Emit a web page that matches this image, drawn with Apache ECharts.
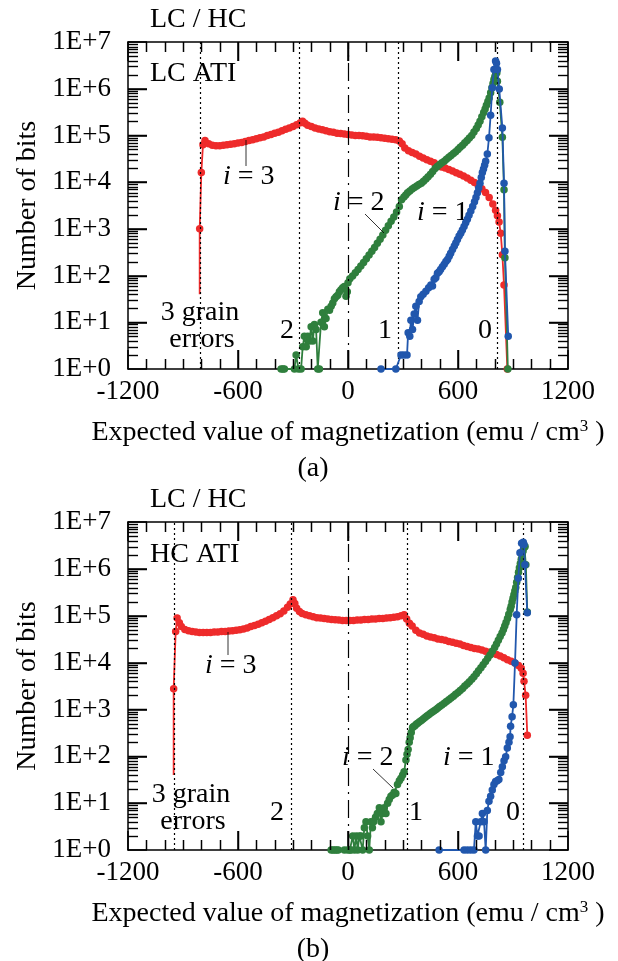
<!DOCTYPE html>
<html><head><meta charset="utf-8">
<script src="https://cdn.jsdelivr.net/npm/echarts@6/dist/echarts.min.js"></script>
<style>html,body{margin:0;padding:0;background:#fff}#c{width:618px;height:961px}</style>
</head><body><div id="c"></div>
<script>
// ---- DATA: [expected magnetization (emu/cm3), number of bits] ----
const redA = [[-809,40],[-809,1000],[-800,16000],[-791,63000],[-780,78000],[-760,66000],[-740,62000],[-720,60000],[-700,60000],[-680,62000],[-660,63000],[-640,65000],[-620,66000],[-600,69000],[-580,71000],[-560,74000],[-540,78000],[-520,81000],[-500,85000],[-480,89000],[-460,93000],[-440,100000],[-420,105000],[-400,112000],[-380,117000],[-360,126000],[-340,135000],[-320,145000],[-300,155000],[-280,170000],[-260,186000],[-248,200000],[-235,182000],[-220,166000],[-200,155000],[-180,145000],[-160,138000],[-140,132000],[-120,126000],[-100,120000],[-80,117000],[-60,112000],[-40,110000],[-20,107000],[0,105000],[20,102000],[40,100000],[60,100000],[80,98000],[100,96000],[120,93000],[140,93000],[160,91000],[180,89000],[200,87000],[220,85000],[240,83000],[260,81000],[280,76000],[295,66000],[310,54000],[330,47000],[350,43000],[370,40000],[390,36000],[410,33000],[430,30000],[450,28000],[470,26000],[490,23000],[510,21000],[530,20000],[550,18600],[570,17400],[590,15800],[610,14800],[630,13500],[650,12300],[670,11000],[690,9800],[710,8500],[730,7200],[750,6000],[770,4700],[790,3400],[805,2500],[815,1900],[824,1400],[833,810],[842,280],[851,63],[869,1]];
const greenA = [[-365,1],[-355,1],[-347,1],[-292,1],[-283,2],[-270,1],[-256,1],[-247,3],[-238,5],[-228,3],[-219,5],[-210,4],[-201,8],[-192,4],[-183,9],[-174,7],[-165,1],[-156,1],[-147,10],[-138,16],[-129,8],[-120,12],[-110,19],[-101,18],[-92,22],[-83,26],[-74,32],[-65,35],[-56,38],[-47,45],[-38,50],[-29,55],[-20,58],[-11,36],[-4,45],[0,70],[10,85],[25,98],[40,115],[55,135],[70,160],[85,190],[100,230],[115,275],[130,330],[145,400],[160,490],[175,600],[190,740],[205,930],[220,1170],[235,1450],[250,1800],[265,2300],[280,3000],[292,4200],[305,4800],[315,5300],[325,5900],[337,6500],[350,7100],[362,7700],[375,8300],[387,8900],[400,9500],[412,10500],[425,11700],[437,13100],[450,14800],[462,17000],[475,19500],[487,21500],[500,24000],[512,26000],[525,28000],[537,31000],[550,34000],[562,37000],[575,41000],[587,45000],[600,50000],[612,56000],[625,62000],[637,70000],[650,78000],[662,88000],[675,100000],[687,118000],[700,141000],[710,168000],[720,200000],[730,250000],[740,310000],[748,370000],[755,440000],[763,530000],[770,630000],[778,820000],[785,1050000],[791,1300000],[796,1580000],[801,1800000],[805,2000000],[812,2190000],[815,1450000],[828,510000],[842,91000],[851,6900],[856,240],[872,1]];
const blueA = [[180,1],[261,1],[289,2],[305,2],[322,2],[328,6],[337,5],[343,11],[352,7],[361,15],[370,22],[379,11],[388,28],[397,35],[410,40],[425,46],[440,55],[452,63],[461,60],[470,83],[479,90],[488,112],[497,120],[505,135],[515,155],[525,174],[534,200],[543,220],[552,260],[560,300],[570,360],[580,430],[588,500],[597,590],[606,700],[615,810],[624,950],[633,1120],[642,1350],[651,1600],[660,1950],[670,2400],[680,3000],[690,3800],[698,4700],[706,5900],[713,7500],[720,9500],[727,12500],[733,16000],[739,19000],[745,23000],[751,28000],[760,40000],[769,89000],[778,270000],[787,1050000],[796,2570000],[805,3900000],[810,3500000],[815,2570000],[825,980000],[842,145000],[851,9500],[856,330],[874,5]];
const redB = [[-951,40],[-951,2750],[-940,46000],[-932,89000],[-920,71000],[-909,59000],[-890,51000],[-870,48000],[-850,46000],[-830,45000],[-810,44000],[-790,44000],[-770,44000],[-750,44000],[-730,45000],[-710,45000],[-690,46000],[-670,46000],[-650,47000],[-630,48000],[-610,49000],[-590,50000],[-570,52000],[-550,55000],[-530,59000],[-510,62000],[-490,66000],[-470,71000],[-450,76000],[-430,83000],[-410,91000],[-390,100000],[-370,110000],[-350,126000],[-330,151000],[-315,178000],[-300,219000],[-290,182000],[-280,145000],[-265,123000],[-250,112000],[-230,105000],[-210,100000],[-190,95000],[-170,91000],[-150,89000],[-130,87000],[-110,85000],[-90,83000],[-70,82000],[-50,81000],[-30,79000],[-10,79000],[10,79000],[30,79000],[50,81000],[70,81000],[90,83000],[110,83000],[130,85000],[150,85000],[170,87000],[190,87000],[210,89000],[230,91000],[250,93000],[270,95000],[290,100000],[306,105000],[320,85000],[335,69000],[350,60000],[370,49000],[390,43000],[410,40000],[430,37000],[450,35000],[470,34000],[490,32000],[510,31000],[530,30000],[550,28000],[570,27000],[590,26000],[610,25000],[630,23000],[650,22000],[670,21000],[690,20000],[710,19500],[730,18600],[750,17400],[770,16600],[790,15800],[810,14800],[830,13800],[850,12600],[870,11500],[890,10700],[910,9800],[930,8700],[945,7600],[955,5900],[960,4000],[969,2000],[978,280]];
const greenB = [[-92,1],[-82,1],[-72,1],[-62,1],[-53,1],[-20,1],[-2,1],[10,1],[16,1],[26,2],[35,1],[45,2],[53,1],[62,2],[71,2],[80,1],[89,3],[98,4],[107,2],[116,1],[125,4],[133,3],[140,4],[150,5],[160,6],[171,8],[180,4],[189,6],[198,8],[207,6],[216,10],[225,12],[234,14],[243,15],[252,17],[261,16],[270,25],[280,30],[289,34],[298,40],[306,47],[316,83],[322,110],[328,140],[334,200],[339,250],[345,320],[352,410],[358,430],[365,450],[372,480],[380,510],[390,545],[400,580],[410,625],[420,670],[430,720],[440,770],[450,825],[460,880],[470,940],[480,1000],[490,1070],[500,1150],[512,1250],[525,1350],[537,1470],[550,1600],[562,1750],[575,1900],[587,2100],[600,2300],[612,2550],[625,2800],[637,3150],[650,3500],[662,3900],[675,4400],[687,5000],[700,5800],[712,6700],[725,7800],[737,9000],[750,10500],[762,12300],[775,14500],[787,17500],[800,21000],[810,25000],[820,30000],[830,36000],[840,43000],[848,51000],[855,60000],[862,72000],[870,87000],[877,108000],[885,135000],[890,160000],[895,195000],[900,235000],[905,280000],[910,335000],[915,400000],[920,520000],[925,650000],[930,850000],[935,1050000],[940,1300000],[945,1600000],[950,1950000],[955,2400000],[962,2900000],[966,3000000],[970,1230000],[978,120000]];
const blueB = [[497,1],[633,1],[651,1],[669,1],[687,1],[697,4],[706,2],[715,2],[724,4],[733,6],[742,4],[751,1],[760,7],[769,11],[778,14],[787,19],[796,25],[805,29],[814,30],[823,32],[833,45],[842,60],[851,80],[860,98],[869,150],[878,200],[884,260],[887,440],[895,700],[902,1260],[911,9800],[920,105000],[929,630000],[938,2200000],[947,3500000],[956,3700000],[960,3300000],[965,1230000],[978,115000]];
// reference (grain-count boundary) lines
const refA = [-805, -265, 275, 815];
const refB = [-950, -310, 325, 957];
// tick positions
const xMajorTicks = [-600, 0, 600];
const xMinorTicks = [-1100, -1000, -900, -800, -700, -500, -400, -300, -200, -100, 100, 200, 300, 400, 500, 700, 800, 900, 1000, 1100];

// ---- STYLE ----
const FF = 'Liberation Serif';
const RED = '#ee2b2b', GREEN = '#2f7f3d', BLUE = '#2157ad';
const blk = {color: '#000', width: 1.5};
const grids = [
  {left: 128, top: 42, width: 440, height: 327},
  {left: 128, top: 522, width: 440, height: 328}
];
const XMIN = -1200, XMAX = 1200, YDEC = 7;
const xAxes = [], yAxes = [], series = [];
grids.forEach((g, gi) => {
  const base = {gridIndex: gi, type: 'value', min: XMIN, max: XMAX, interval: 600,
    splitLine: {show: false}, axisLine: {onZero: false, lineStyle: blk},
    axisTick: {inside: true, length: 19, lineStyle: blk}};
  xAxes.push(Object.assign({}, base, {position: 'bottom',
    axisLabel: {fontFamily: FF, fontSize: 27, color: '#000', margin: 9, formatter: v => String(v)},
    name: 'Expected value of magnetization (emu / cm{sup|3} )', nameLocation: 'middle', nameGap: 49,
    nameTextStyle: {fontFamily: FF, fontSize: 28, color: '#000',
      rich: {sup: {fontFamily: FF, fontSize: 17, color: '#000', verticalAlign: 'top', lineHeight: 30}}}}));
  xAxes.push(Object.assign({}, base, {position: 'top', axisLabel: {show: false}}));
  const yb = {gridIndex: gi, type: 'log', logBase: 10, min: 1, max: Math.pow(10, YDEC), interval: 1, splitLine: {show: false},
    axisLine: {onZero: false, lineStyle: blk}, axisTick: {inside: true, length: 19, lineStyle: blk}};
  yAxes.push(Object.assign({}, yb, {position: 'left',
    axisLabel: {fontFamily: FF, fontSize: 27, color: '#000', margin: 17,
      formatter: v => '1E+' + Math.round(Math.log10(v))},
    name: 'Number of bits', nameLocation: 'middle', nameGap: 84, nameRotate: 90,
    nameTextStyle: {fontFamily: FF, fontSize: 28, color: '#000'}}));
  yAxes.push(Object.assign({}, yb, {position: 'right', axisLabel: {show: false}}));
  const xi = gi * 2, yi = gi * 2;
  const refs = gi === 0 ? refA : refB;
  series.push({type: 'line', xAxisIndex: xi, yAxisIndex: yi, data: [], z: 1,
    markLine: {silent: true, symbol: 'none', label: {show: false},
      lineStyle: {color: '#000', type: [2, 3], width: 1.2},
      data: refs.map(v => ({xAxis: v})).concat([{xAxis: 0, lineStyle: {color: '#000', type: [18, 6, 2, 6], width: 1.2}}])}});
  const sets = gi === 0 ? [[redA, RED], [greenA, GREEN], [blueA, BLUE]] : [[redB, RED], [greenB, GREEN], [blueB, BLUE]];
  sets.forEach(([d, col], si) => {
    series.push({type: 'line', xAxisIndex: xi, yAxisIndex: yi, data: d, clip: false, z: 3 + si,
      symbol: 'circle', symbolSize: (v, p) => (si === 0 && p.dataIndex === 0) ? 0 : 7.5,
      lineStyle: {color: col, width: 1.8}, itemStyle: {color: col, borderWidth: 0},
      emphasis: {disabled: true}});
  });
});
const T = (text, x, y, align) => ({type: 'text', x, y, silent: true,
  style: {text, fill: '#000', font: '28px "' + FF + '"', textAlign: align || 'left', textVerticalAlign: 'middle',
    rich: {it: {fontStyle: 'italic', fontFamily: FF, fontSize: 28}, n: {fontFamily: FF, fontSize: 28}}}});
const L = (x1, y1, x2, y2, w) => ({type: 'line', silent: true, z: 100, shape: {x1, y1, x2, y2}, style: {stroke: '#000', lineWidth: w || 0.8}});
const graphic = [
  T('LC / HC', 150, 20), T('LC ATI', 150, 74),
  T('{it|i}{n| = 3}', 223, 177), L(246, 140, 246, 166),
  T('{it|i}{n| = 2}', 333, 203), L(365, 214, 384, 233),
  T('{it|i}{n| = 1}', 417, 213),
  T('3 grain', 200, 313, 'center'), T('errors', 202, 340, 'center'),
  T('2', 287, 331, 'center'), T('1', 385, 331, 'center'), T('0', 485, 331, 'center'),
  T('(a)', 313, 469, 'center'),
  T('LC / HC', 150, 500), T('HC ATI', 150, 555),
  T('{it|i}{n| = 3}', 205, 666), L(228, 632, 228, 655),
  T('{it|i}{n| = 2}', 342, 758), L(373, 769, 393, 788),
  T('{it|i}{n| = 1}', 443, 758),
  T('3 grain', 191, 795, 'center'), T('errors', 193, 822, 'center'),
  T('2', 277, 813, 'center'), T('1', 416, 813, 'center'), T('0', 513, 813, 'center'),
  T('(b)', 313, 950, 'center')
];
// frame ticks (inside, all four sides): decade + 2..9 log minor ticks, 600 + 100 linear ticks
grids.forEach(g => {
  const xl = g.left, xr = g.left + g.width, yt = g.top, yb = g.top + g.height;
  const yOf = v => Math.round(yt + g.height * (1 - Math.log10(v) / YDEC)) + 0.5;
  const xOf = v => Math.round(xl + (v - XMIN) / (XMAX - XMIN) * g.width) + 0.5;
  for (let n = 0; n < YDEC; n++) {
    if (n > 0) { const y = yOf(Math.pow(10, n)); graphic.push(L(xl, y, xl + 19, y, 1.5), L(xr - 19, y, xr, y, 1.5)); }
    for (let k = 2; k <= 9; k++) {
      const y = yOf(k * Math.pow(10, n));
      graphic.push(L(xl, y, xl + 10, y, 1.4), L(xr - 10, y, xr, y, 1.4));
    }
  }
  xMajorTicks.forEach(v => { const x = xOf(v); graphic.push(L(x, yb, x, yb - 19, 1.5), L(x, yt, x, yt + 19, 1.5)); });
  xMinorTicks.forEach(v => { const x = xOf(v); graphic.push(L(x, yb, x, yb - 10, 1.5), L(x, yt, x, yt + 10, 1.5)); });
});
const chart = echarts.init(document.getElementById('c'), null, {renderer: 'canvas'});
chart.setOption({animation: false, backgroundColor: '#fff', grid: grids, xAxis: xAxes, yAxis: yAxes, series, graphic});
</script></body></html>
